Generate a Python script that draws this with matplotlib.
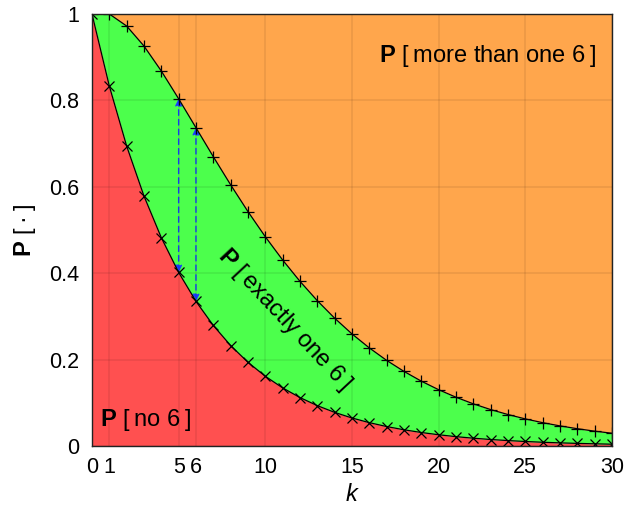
import matplotlib
matplotlib.use("Agg")
import matplotlib.pyplot as plt

plt.rcParams['font.family'] = ['Liberation Sans', 'DejaVu Sans']
plt.rcParams['mathtext.fontset'] = 'custom'
plt.rcParams['mathtext.rm'] = 'Liberation Sans'
plt.rcParams['mathtext.bf'] = 'Liberation Sans:bold'
plt.rcParams['mathtext.it'] = 'Liberation Sans:italic'

k = list(range(31))
p_no_six = [1.0, 0.8333, 0.6944, 0.5787, 0.4823, 0.4019, 0.3349, 0.2791, 0.2326, 0.1938,
            0.1615, 0.1346, 0.1122, 0.0935, 0.0779, 0.0649, 0.0541, 0.0451, 0.0376, 0.0313,
            0.0261, 0.0217, 0.0181, 0.0151, 0.0126, 0.0105, 0.0087, 0.0073, 0.0061, 0.0051, 0.0042]
p_at_most_one = [1.0, 1.0, 0.9722, 0.9259, 0.8681, 0.8038, 0.7368, 0.6698, 0.6047, 0.5427,
                 0.4845, 0.4307, 0.3813, 0.3365, 0.2960, 0.2596, 0.2272, 0.1983, 0.1728, 0.1502,
                 0.1304, 0.1130, 0.0977, 0.0844, 0.0729, 0.0628, 0.0541, 0.0466, 0.0401, 0.0344, 0.0296]
x_ticks = [0, 1, 5, 6, 10, 15, 20, 25, 30]
y_ticks = [0, 0.2, 0.4, 0.6, 0.8, 1]
y_ticklabels = ['0', '0.2', '0.4', '0.6', '0.8', '1']
arrow_ks = [5, 6]

RED = '#ff5050'
GREEN = '#4cff4c'
ORANGE = '#ffa64c'
TS = '\u2009'

fig = plt.figure(figsize=(6.25, 5.08), dpi=100)
ax = fig.add_axes([0.1472, 0.122, 0.8318, 0.8504])

ax.fill_between(k, 0, p_no_six, color=RED, lw=0, zorder=0.5)
ax.fill_between(k, p_no_six, p_at_most_one, color=GREEN, lw=0, zorder=0.5)
ax.fill_between(k, p_at_most_one, 1, color=ORANGE, lw=0, zorder=0.5)

ax.set_axisbelow(False)
ax.grid(True, color='black', alpha=0.08, lw=1.2, zorder=1)

ax.plot(k, p_no_six, color='black', lw=0.9, marker='x', ms=7, mew=0.9, zorder=3)
ax.plot(k, p_at_most_one, color='black', lw=0.9, marker='+', ms=9, mew=0.9, zorder=3)

for kk in arrow_ks:
    ax.annotate('', xy=(kk, p_at_most_one[kk]), xytext=(kk, p_no_six[kk]),
                arrowprops=dict(arrowstyle='<|-|>', linestyle=(0, (4, 3)), color='#1a3cff',
                                lw=1.0, shrinkA=0, shrinkB=0, mutation_scale=10),
                zorder=2.5)

ax.set_xlim(0, 30)
ax.set_ylim(0, 1)
ax.set_xticks(x_ticks)
ax.set_xticklabels([str(v) for v in x_ticks])
ax.set_yticks(y_ticks)
ax.set_yticklabels(y_ticklabels)
ax.tick_params(axis='both', length=0, labelsize=15.5)
ax.tick_params(axis='x', pad=8)
ax.tick_params(axis='y', pad=9)
for s in ax.spines.values():
    s.set_color('#222222')
    s.set_linewidth(1.0)
    s.set_zorder(4)

ax.set_xlabel(r'$k$', fontsize=17, labelpad=4)
ax.set_ylabel(r'$\mathbf{P}$' + ' [' + TS + '·' + TS + ']', fontsize=17, labelpad=8)

ax.text(0.45, 0.06, r'$\mathbf{P}$' + ' [' + TS + 'no 6' + TS + ']', fontsize=17,
        ha='left', va='center', zorder=5)
ax.text(29.1, 0.903, r'$\mathbf{P}$' + ' [' + TS + 'more than one 6' + TS + ']', fontsize=17,
        ha='right', va='center', zorder=5)
ax.text(11.1, 0.293, r'$\mathbf{P}$' + ' [' + TS + 'exactly one 6' + TS + ']', fontsize=17,
        ha='center', va='center', rotation=-47, rotation_mode='anchor', zorder=5)

fig.savefig('out.png', dpi=100)
